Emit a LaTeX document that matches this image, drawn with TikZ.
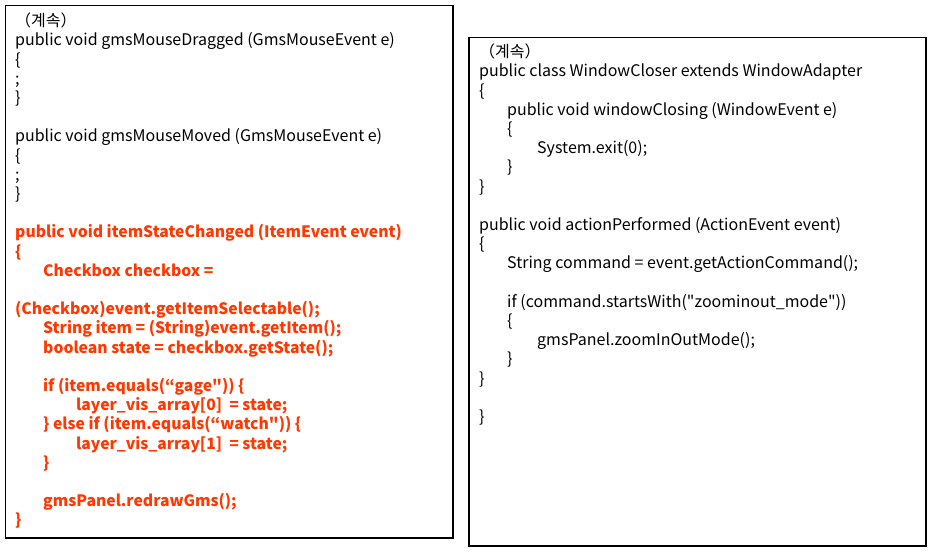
\documentclass[tikz,border=0pt]{standalone}
\usepackage{fontspec}
\setmainfont{Noto Sans CJK KR}
\definecolor{codered}{RGB}{255,55,0}
\tikzset{
  codebox/.style={draw=black,line width=1.2pt},
  codeline/.style={anchor=mid west,inner sep=0pt,font=\fontsize{16}{19}\selectfont},
  hiline/.style={codeline,text=codered,font=\fontsize{15.7}{19}\selectfont\bfseries},
}
\begin{document}
\begin{tikzpicture}[x=1pt,y=-1pt]
\useasboundingbox (0,0) rectangle (929,552);
\pgfmathsetmacro{\pitch}{19.2}
% left listing
\draw[codebox] (5.5,5.5) rectangle (453,538);
\foreach \row/\ind/\txt in {0/0/{（계속）},
  1/0/{public void gmsMouseDragged (GmsMouseEvent e)},2/0/\{,3/0/;,4/0/\},
  6/0/{public void gmsMouseMoved (GmsMouseEvent e)},7/0/\{,8/0/;,9/0/\}}
  \node[codeline] (L\row) at (15,24+\row*\pitch) {\txt};
\foreach \row/\ind/\txt in {11/0/{public void itemStateChanged (ItemEvent event)},12/0/\{,
  13/28/{Checkbox checkbox =},15/0/{(Checkbox)event.getItemSelectable();},
  16/28/{String item = (String)event.getItem();},17/28/{boolean state = checkbox.getState();},
  19/28/{if (item.equals(“gage\textquotedbl)) \{},20/61/{layer\_vis\_array[0]\ \ = state;},
  21/28/{\} else if (item.equals(“watch\textquotedbl))\ \{},22/61/{layer\_vis\_array[1]\ \ = state;},
  23/28/\},25/28/{gmsPanel.redrawGms();},26/0/\}}
  \node[hiline] (L\row) at (15+\ind,24+\row*\pitch) {\txt};
% right listing
\draw[codebox] (469,37.5) rectangle (926,546);
\foreach \row/\ind/\txt in {0/0/{（계속）},
  1/0/{public class WindowCloser extends WindowAdapter},2/0/\{,
  3/28/{public void windowClosing (WindowEvent e)},4/28/\{,
  5/58/{System.exit(0);},6/28/\},7/0/\},
  9/0/{public void actionPerformed (ActionEvent event)},10/0/\{,
  11/28/{String command = event.getActionCommand();},
  13/28/{if (command.startsWith(\textquotedbl zoominout\_mode\textquotedbl))},14/28/\{,
  15/58/{gmsPanel.zoomInOutMode();},16/28/\},17/0/\},19/0/\}}
  \node[codeline] (R\row) at (479+\ind,55+\row*\pitch) {\txt};
\end{tikzpicture}
\end{document}
